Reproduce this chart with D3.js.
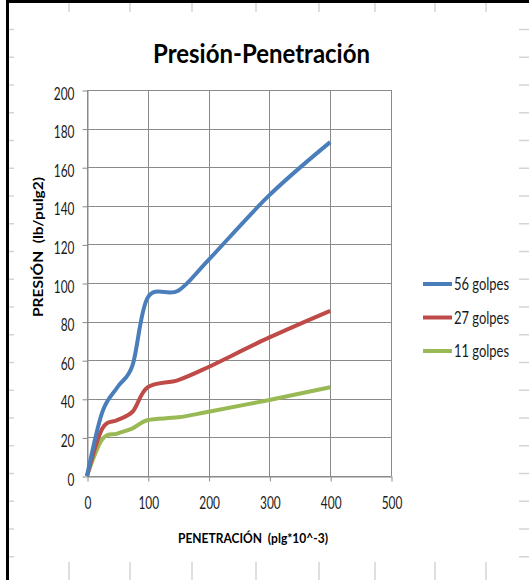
<!DOCTYPE html>
<html>
<head>
<meta charset="utf-8">
<script src="https://cdn.jsdelivr.net/npm/d3@7"></script>
<style>
  html, body { margin: 0; padding: 0; background: #fff; }
  svg { display: block; }
</style>
</head>
<body>
<svg id="chart" width="529" height="580"></svg>
<script>
// Penetración (plg*10^-3) y presión (lb/pulg2) para cada energía de compactación
const penetracion = [0, 25, 50, 75, 100, 150, 200, 300, 400];
const golpes56 = [0, 33, 46, 57.5, 92.5, 96, 112, 145.5, 173];
const golpes27 = [0, 24.5, 29, 33.3, 46, 49.7, 56.5, 71.8, 85.6];
const golpes11 = [0, 19, 22, 24.7, 29, 30.4, 33.3, 39.4, 46];
const seriesNames = ["56 golpes", "27 golpes", "11 golpes"];
const seriesColors = ["#4a7ebb", "#be4b48", "#98b954"];
const xTicks = [0, 100, 200, 300, 400, 500];
const yTicks = [0, 20, 40, 60, 80, 100, 120, 140, 160, 180, 200];

const FONT = "Lato, 'Open Sans', sans-serif";
const svg = d3.select("#chart");

// Rejilla de celdas de la hoja de cálculo alrededor del gráfico
const sheet = svg.append("g").attr("stroke", "#d4d4d4").attr("stroke-width", 1.5);
const colX = [69, 130, 192, 256, 319, 375, 435, 486];
colX.forEach(x => {
  sheet.append("line").attr("x1", x).attr("x2", x).attr("y1", 3).attr("y2", 12);
  sheet.append("line").attr("x1", x).attr("x2", x).attr("y1", 562).attr("y2", 580);
});
d3.range(0, 20).map(k => 29.5 + 27.75 * k).forEach(y => {
  sheet.append("line").attr("x1", 9).attr("x2", 14).attr("y1", y).attr("y2", y);
  sheet.append("line").attr("x1", 519).attr("x2", 529).attr("y1", y).attr("y2", y);
});

// Borde del área del gráfico
svg.append("rect").attr("x", 6).attr("y", 0).attr("width", 523).attr("height", 3).attr("fill", "#000");
svg.append("rect").attr("x", 6).attr("y", 0).attr("width", 3).attr("height", 580).attr("fill", "#000");

const plot = { left: 87, right: 391, top: 90, bottom: 476 };
const x = d3.scaleLinear().domain([0, 500]).range([plot.left, plot.right]);
const y = d3.scaleLinear().domain([0, 200]).range([plot.bottom, plot.top]);

// Líneas de división
const grid = svg.append("g").attr("stroke", "#8a8a8a").attr("stroke-width", 1);
yTicks.forEach(v => grid.append("line")
  .attr("x1", plot.left).attr("x2", plot.right)
  .attr("y1", Math.round(y(v)) + 0.5).attr("y2", Math.round(y(v)) + 0.5));
xTicks.forEach(v => grid.append("line")
  .attr("x1", Math.round(x(v)) + 0.5).attr("x2", Math.round(x(v)) + 0.5)
  .attr("y1", plot.top).attr("y2", plot.bottom));

// Texto estrecho: mantiene la altura de la letra y comprime el ancho
function narrow(sel, perChar) {
  sel.each(function () {
    const t = d3.select(this);
    t.attr("textLength", t.text().length * perChar).attr("lengthAdjust", "spacingAndGlyphs");
  });
}

// Ejes
const yAxis = svg.append("g")
  .attr("transform", `translate(${plot.left + 0.5},0.5)`)
  .call(d3.axisLeft(y).tickValues(yTicks).tickSize(5).tickPadding(8).tickSizeOuter(0));
const xAxis = svg.append("g")
  .attr("transform", `translate(0.5,${plot.bottom + 0.5})`)
  .call(d3.axisBottom(x).tickValues(xTicks).tickSize(5).tickPadding(22).tickSizeOuter(0));
[yAxis, xAxis].forEach(a => {
  a.select(".domain").attr("stroke", "#8a8a8a");
  a.selectAll(".tick line").attr("stroke", "#8a8a8a");
  a.selectAll(".tick text").attr("font-family", FONT).attr("font-size", 17).attr("fill", "#1a1a1a");
  narrow(a.selectAll(".tick text"), 6.9);
});
yAxis.selectAll(".tick text").attr("dy", "0.5em");
xAxis.selectAll(".tick text").attr("dy", "0.35em");

// Series
const data = [golpes56, golpes27, golpes11];
const line = d3.line()
  .x((d, i) => x(penetracion[i]))
  .y(d => y(d))
  .curve(d3.curveCardinal);
data.slice().reverse().forEach((vals, j) => {
  const i = data.length - 1 - j;
  svg.append("path")
    .attr("d", line(vals))
    .attr("fill", "none")
    .attr("stroke", seriesColors[i])
    .attr("stroke-width", 4)
    .attr("stroke-linejoin", "round")
    .attr("stroke-linecap", "butt");
});

// Títulos
svg.append("text")
  .attr("x", 261.5).attr("y", 63)
  .attr("text-anchor", "middle")
  .attr("font-family", FONT).attr("font-weight", "bold").attr("font-size", 27).attr("fill", "#000")
  .attr("textLength", 217).attr("lengthAdjust", "spacingAndGlyphs")
  .text("Presión-Penetración");

svg.append("text")
  .attr("x", 253).attr("y", 543)
  .attr("text-anchor", "middle")
  .attr("font-family", FONT).attr("font-weight", "bold").attr("font-size", 13.5).attr("fill", "#000")
  .attr("xml:space", "preserve")
  .attr("textLength", 150).attr("lengthAdjust", "spacingAndGlyphs")
  .text("PENETRACIÓN  (plg*10^-3)");

svg.append("text")
  .attr("transform", "translate(43,247) rotate(-90)")
  .attr("text-anchor", "middle")
  .attr("font-family", FONT).attr("font-weight", "bold").attr("font-size", 13.5).attr("fill", "#000")
  .attr("xml:space", "preserve")
  .attr("textLength", 140).attr("lengthAdjust", "spacingAndGlyphs")
  .text("PRESIÓN  (lb/pulg2)");

// Leyenda
const legend = svg.append("g");
seriesNames.forEach((name, i) => {
  const ly = 284 + i * 33.5;
  legend.append("line")
    .attr("x1", 423).attr("x2", 452).attr("y1", ly).attr("y2", ly)
    .attr("stroke", seriesColors[i]).attr("stroke-width", 4);
  legend.append("text")
    .attr("x", 454).attr("y", ly).attr("dy", "0.38em")
    .attr("font-family", FONT).attr("font-size", 16.5).attr("fill", "#1a1a1a")
    .attr("textLength", 55).attr("lengthAdjust", "spacingAndGlyphs")
    .text(name);
});
</script>
</body>
</html>
